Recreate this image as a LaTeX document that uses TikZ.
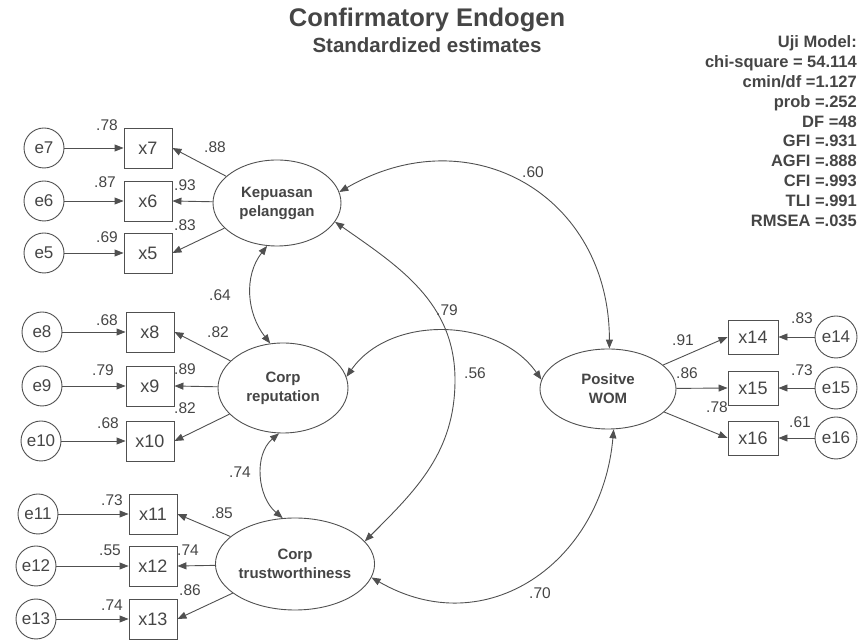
\documentclass[tikz,border=0pt]{standalone}
\usepackage{fontspec}
\setmainfont{Liberation Sans}
\usetikzlibrary{arrows.meta,shapes.geometric}
\definecolor{ln}{HTML}{505050}
\definecolor{tx}{HTML}{454545}
\begin{document}
\begin{tikzpicture}[x=1pt,y=1pt,
  every node/.style={text=tx},
  lat/.style={ellipse, draw=ln, line width=0.9pt, inner sep=0pt, align=center, font=\fontsize{15}{19}\selectfont\bfseries},
  obs/.style={rectangle, draw=ln, line width=0.9pt, minimum width=48pt, minimum height=40pt, inner sep=0pt, font=\fontsize{18}{18}\selectfont},
  obsr/.style={obs, minimum width=50pt, minimum height=34pt},
  err/.style={circle, draw=ln, line width=0.9pt, minimum size=40pt, inner sep=0pt, font=\fontsize{17}{17}\selectfont},
  lbl/.style={inner sep=0pt, font=\fontsize{15.5}{15.5}\selectfont},
  uji/.style={inner sep=0pt, anchor=base east, font=\fontsize{16.5}{16.5}\selectfont\bfseries},
  tip/.tip={Triangle[length=9pt,width=7pt]},
  arr/.style={draw=ln, line width=0.9pt, -tip},
  cov/.style={draw=ln, line width=0.9pt, tip-tip},
]
\useasboundingbox (0,0) rectangle (863,640);
% titles
\node[inner sep=0pt, font=\fontsize{25.5}{25.5}\selectfont\bfseries] (title) at (427,620) {Confirmatory Endogen};
\node[inner sep=0pt, font=\fontsize{20.5}{20.5}\selectfont\bfseries] (sub) at (427,595) {Standardized estimates};
% fit indices
\foreach \t [count=\i from 0] in {Uji Model:, chi-square = 54.114, cmin/df =1.127, prob =.252, DF =48, GFI =.931, AGFI =.888, CFI =.993, TLI =.991, RMSEA =.035}
  \node[uji] (u\i) at (857,{592-19.8*\i}) {\t};
% latent variables
\node[lat, minimum width=128pt, minimum height=86pt] (kep) at (277,437) {Kepuasan\\pelanggan};
\node[lat, minimum width=130pt, minimum height=90pt] (rep) at (283,252) {Corp\\reputation};
\node[lat, minimum width=142pt, minimum height=92pt] (tru) at (295,76) {Corp\\trustworthiness};
\node[lat, minimum width=136pt, minimum height=80pt] (wom) at (608,251) {Positve\\WOM};
% observed, group 1
\node[obs] (x7) at (148,492) {x7};
\node[obs] (x6) at (148,439) {x6};
\node[obs] (x5) at (148,387) {x5};
\node[err] (e7) at (44,492) {e7};
\node[err] (e6) at (44,439) {e6};
\node[err] (e5) at (44,387) {e5};
% group 2
\node[obs] (x8) at (150,308) {x8};
\node[obs] (x9) at (150,254) {x9};
\node[obs] (x10) at (150,199) {x10};
\node[err] (e8) at (42,308) {e8};
\node[err] (e9) at (42,254) {e9};
\node[err] (e10) at (41,199) {e10};
% group 3
\node[obs] (x11) at (153,126) {x11};
\node[obs] (x12) at (153,74) {x12};
\node[obs] (x13) at (153,21) {x13};
\node[err] (e11) at (38,126) {e11};
\node[err] (e12) at (36,74) {e12};
\node[err] (e13) at (36,21) {e13};
% group WOM
\node[obsr] (x14) at (753,303) {x14};
\node[obsr] (x15) at (753,252) {x15};
\node[obsr] (x16) at (753,202) {x16};
\node[err, minimum size=42pt] (e14) at (836,303) {e14};
\node[err, minimum size=42pt] (e15) at (836,252) {e15};
\node[err, minimum size=42pt] (e16) at (836,202) {e16};
% error arrows
\foreach \e/\x in {e7/x7,e6/x6,e5/x5,e8/x8,e9/x9,e10/x10,e11/x11,e12/x12,e13/x13,e14/x14,e15/x15,e16/x16}
  \draw[arr] (\e) -- (\x);
% loadings
\foreach \x in {x7,x6,x5} \draw[arr] (kep) -- (\x.east);
\foreach \x in {x8,x9,x10} \draw[arr] (rep) -- (\x.east);
\foreach \x in {x11,x12,x13} \draw[arr] (tru) -- (\x.east);
\foreach \x in {x14,x15,x16} \draw[arr] (wom) -- (\x.west);
% covariances
\coordinate (mid56) at (455,260);
\draw[cov] (kep.-103) to[out=-128,in=128] (rep.106);
\draw[cov] (rep.-95) to[out=-140,in=140] (tru.105);
\draw[cov] (kep.10) to[out=30,in=90,looseness=1.25] (wom.88);
\draw[cov] (kep.-18) to[out=-35,in=90] (mid56) to[out=-90,in=45] (tru.18);
\draw[cov] (rep.10) to[out=55,in=125] (wom.172);
\draw[cov] (tru.-10) to[out=-30,in=-95,looseness=1.2] (wom.-82);
% labels group 1
\node[lbl] (l78) at (107,515) {.78};
\node[lbl] (l87) at (105,458) {.87};
\node[lbl] (l69) at (107,403) {.69};
\node[lbl] (l88) at (215,493) {.88};
\node[lbl] (l93) at (185,455) {.93};
\node[lbl] (l83) at (185,415) {.83};
% labels group 2
\node[lbl] (l68a) at (107,320) {.68};
\node[lbl] (l82a) at (218,308) {.82};
\node[lbl] (l79a) at (103,270) {.79};
\node[lbl] (l89) at (185,271) {.89};
\node[lbl] (l82b) at (185,232) {.82};
\node[lbl] (l68b) at (108,217) {.68};
% labels group 3
\node[lbl] (l73a) at (112,140) {.73};
\node[lbl] (l85) at (222,127) {.85};
\node[lbl] (l55) at (110,90) {.55};
\node[lbl] (l74a) at (188,90) {.74};
\node[lbl] (l86a) at (190,50) {.86};
\node[lbl] (l74b) at (112,35) {.74};
% covariance labels
\node[lbl] (l64) at (220,345) {.64};
\node[lbl] (l74c) at (240,168) {.74};
\node[lbl] (l60) at (533,468) {.60};
\node[lbl] (l79b) at (447,330) {.79};
\node[lbl] (l56) at (475,267) {.56};
\node[lbl] (l70) at (540,47) {.70};
% labels WOM
\node[lbl] (l91) at (683,300) {.91};
\node[lbl] (l86b) at (687,267) {.86};
\node[lbl] (l78b) at (717,233) {.78};
\node[lbl] (l83b) at (802,322) {.83};
\node[lbl] (l73b) at (802,270) {.73};
\node[lbl] (l61) at (800,218) {.61};
\end{tikzpicture}
\end{document}
